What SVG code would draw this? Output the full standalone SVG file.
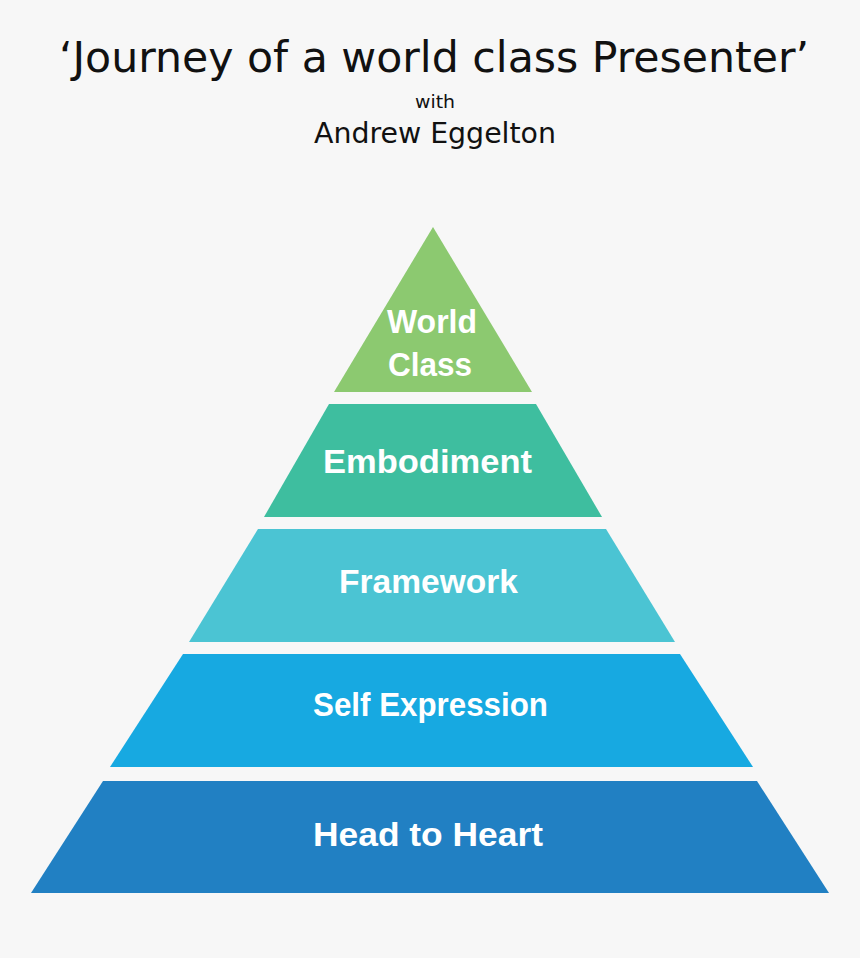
<svg xmlns="http://www.w3.org/2000/svg" width="860" height="958" viewBox="0 0 860 958">
<style>
.hd{font-family:"DejaVu Sans Condensed","Liberation Sans",sans-serif;font-weight:200;fill:#111;text-anchor:middle}
.lb{font-family:"Liberation Sans","DejaVu Sans",sans-serif;font-weight:bold;fill:#fff;text-anchor:middle;font-size:34px}
</style>
<rect width="860" height="958" fill="#f7f7f7"/>
<g id="title">
<text class="hd" x="434" y="72" font-size="42" textLength="750" lengthAdjust="spacingAndGlyphs">‘Journey of a world class Presenter’</text>
<text class="hd" x="435" y="108" font-size="17" textLength="40" lengthAdjust="spacingAndGlyphs">with</text>
<text class="hd" x="435" y="143" font-size="28" textLength="242" lengthAdjust="spacingAndGlyphs">Andrew Eggelton</text>
</g>
<g id="world-class">
<polygon points="433,227 532,392 334,392" fill="#8cc970"/>
<text class="lb" x="432" y="333" font-size="31" textLength="90" lengthAdjust="spacingAndGlyphs">World</text>
<text class="lb" x="430" y="376" font-size="31" textLength="84" lengthAdjust="spacingAndGlyphs">Class</text>
</g>
<g id="embodiment">
<polygon points="329,404 536,404 602,517 264,517" fill="#3ebe9f"/>
<text class="lb" x="427.5" y="473" textLength="209" lengthAdjust="spacingAndGlyphs">Embodiment</text>
</g>
<g id="framework">
<polygon points="258,529 606,529 675,642 189,642" fill="#4bc4d3"/>
<text class="lb" x="428.5" y="593" textLength="179" lengthAdjust="spacingAndGlyphs">Framework</text>
</g>
<g id="self-expression">
<polygon points="183,654 680,654 753,767 110,767" fill="#17a9e1"/>
<text class="lb" x="430.5" y="716" textLength="235" lengthAdjust="spacingAndGlyphs">Self Expression</text>
</g>
<g id="head-to-heart">
<polygon points="103,781 757,781 829,893 31,893" fill="#2180c3"/>
<text class="lb" x="428" y="846" textLength="230" lengthAdjust="spacingAndGlyphs">Head to Heart</text>
</g>
<g id="connectors"></g>
</svg>
